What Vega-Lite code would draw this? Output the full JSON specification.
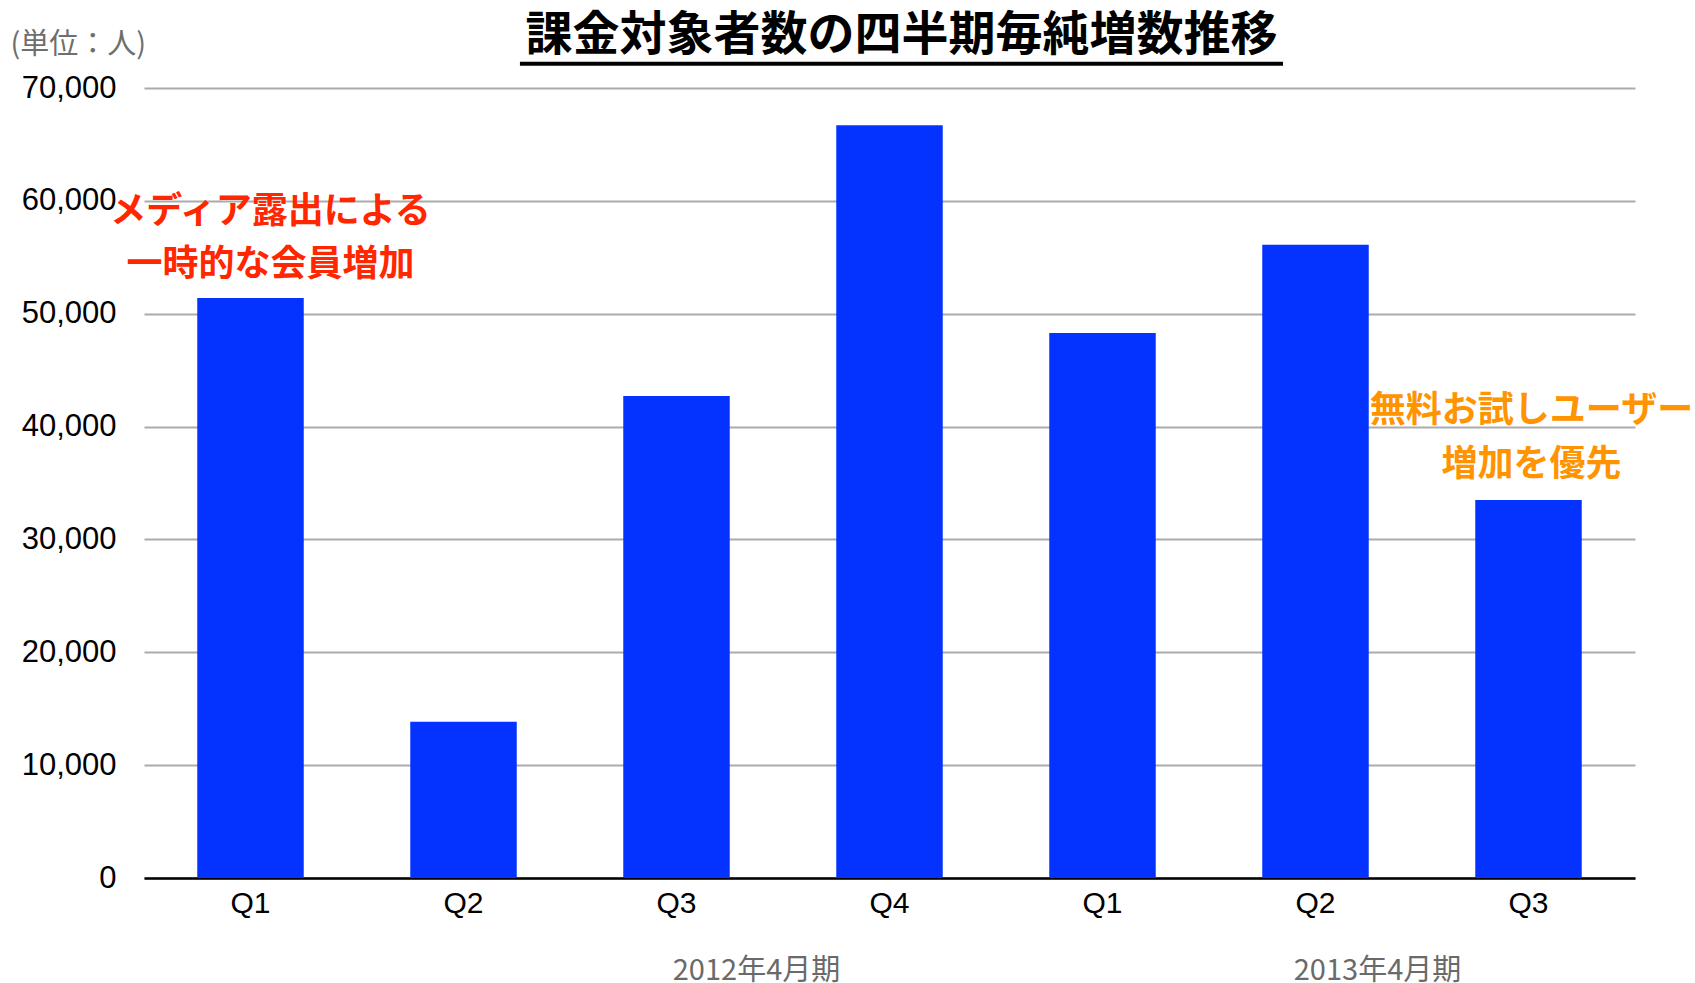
{
  "$schema": "https://vega.github.io/schema/vega-lite/v6.json",
  "width": 1491,
  "height": 790,
  "autosize": "none",
  "padding": {"left": 144, "top": 88, "right": 60, "bottom": 105},
  "background": "white",
  "config": {"view": {"stroke": null}, "text": {"lineBreak": "\n"}},
  "title": {
    "text": "課金対象者数の四半期毎純増数推移",
    "font": "Noto Sans CJK JP",
    "fontSize": 47,
    "fontWeight": "bold",
    "color": "black",
    "anchor": "middle",
    "frame": "group",
    "baseline": "alphabetic",
    "offset": -67,
    "dx": 12
  },
  "data": {
    "values": [
      {"key": "2012-Q1", "fy": "2012年4月期", "quarter": "Q1", "value": 51400},
      {"key": "2012-Q2", "fy": "2012年4月期", "quarter": "Q2", "value": 13840},
      {"key": "2012-Q3", "fy": "2012年4月期", "quarter": "Q3", "value": 42700},
      {"key": "2012-Q4", "fy": "2012年4月期", "quarter": "Q4", "value": 66700},
      {"key": "2013-Q1", "fy": "2013年4月期", "quarter": "Q1", "value": 48300},
      {"key": "2013-Q2", "fy": "2013年4月期", "quarter": "Q2", "value": 56100},
      {"key": "2013-Q3", "fy": "2013年4月期", "quarter": "Q3", "value": 33500}
    ]
  },
  "layer": [
    {
      "mark": {"type": "bar", "color": "#0433FF"},
      "encoding": {
        "x": {
          "field": "key",
          "type": "nominal",
          "sort": null,
          "scale": {"paddingInner": 0.5, "paddingOuter": 0.25},
          "axis": {
            "title": null,
            "labelExpr": "split(datum.label, '-')[1]",
            "labelFont": "Liberation Sans",
            "labelFontSize": 30,
            "labelColor": "black",
            "labelPadding": 10,
            "labelAngle": 0,
            "ticks": false,
            "grid": false,
            "domainColor": "black",
            "domainWidth": 2.5
          }
        },
        "y": {
          "field": "value",
          "type": "quantitative",
          "scale": {"domain": [0, 70000], "nice": false},
          "axis": {
            "values": [0, 10000, 20000, 30000, 40000, 50000, 60000, 70000],
            "format": ",.0f",
            "labelFont": "Liberation Sans",
            "labelFontSize": 31,
            "labelColor": "black",
            "labelPadding": 28,
            "ticks": false,
            "domain": false,
            "gridColor": "#ababab",
            "gridWidth": 2,
            "title": "(単位：人)",
            "titleAngle": 0,
            "titleAlign": "left",
            "titleBaseline": "middle",
            "titleX": -134,
            "titleY": -44,
            "titleFont": "Noto Sans CJK JP",
            "titleFontSize": 29,
            "titleFontWeight": "normal",
            "titleColor": "#6e6e6e"
          }
        }
      }
    },
    {
      "data": {"values": [{"key": "2012-Q1", "note": "メディア露出による\n一時的な会員増加"}]},
      "mark": {"type": "text", "font": "Noto Sans CJK JP", "fontSize": 36, "fontWeight": "bold", "color": "#FF2600", "lineHeight": 53, "align": "center", "baseline": "middle", "dx": 20},
      "encoding": {
        "x": {"field": "key", "type": "nominal"},
        "y": {"datum": 58990},
        "text": {"field": "note"}
      }
    },
    {
      "data": {"values": [{"key": "2013-Q3", "note": "無料お試しユーザー\n増加を優先"}]},
      "mark": {"type": "text", "font": "Noto Sans CJK JP", "fontSize": 36, "fontWeight": "bold", "color": "#FF9300", "lineHeight": 54, "align": "center", "baseline": "middle", "dx": 3},
      "encoding": {
        "x": {"field": "key", "type": "nominal"},
        "y": {"datum": 41410},
        "text": {"field": "note"}
      }
    },
    {
      "data": {"values": [{"key": "2012-Q3", "fy": "2012年4月期"}]},
      "mark": {"type": "text", "font": "Noto Sans CJK JP", "fontSize": 29, "color": "#6a6a6a", "align": "center", "baseline": "middle", "dx": 80},
      "encoding": {
        "x": {"field": "key", "type": "nominal"},
        "y": {"datum": -8250},
        "text": {"field": "fy"}
      }
    },
    {
      "data": {"values": [{"key": "2013-Q2", "fy": "2013年4月期"}]},
      "mark": {"type": "text", "font": "Noto Sans CJK JP", "fontSize": 29, "color": "#6a6a6a", "align": "center", "baseline": "middle", "dx": 62},
      "encoding": {
        "x": {"field": "key", "type": "nominal"},
        "y": {"datum": -8250},
        "text": {"field": "fy"}
      }
    },
    {
      "data": {"values": [{"from": "2012-Q2", "to": "2013-Q2"}]},
      "mark": {"type": "rule", "color": "black", "strokeWidth": 4},
      "encoding": {
        "x": {"field": "from", "type": "nominal", "bandPosition": 1.03},
        "x2": {"field": "to", "bandPosition": 0.195},
        "y": {"datum": 72150}
      }
    }
  ]
}
